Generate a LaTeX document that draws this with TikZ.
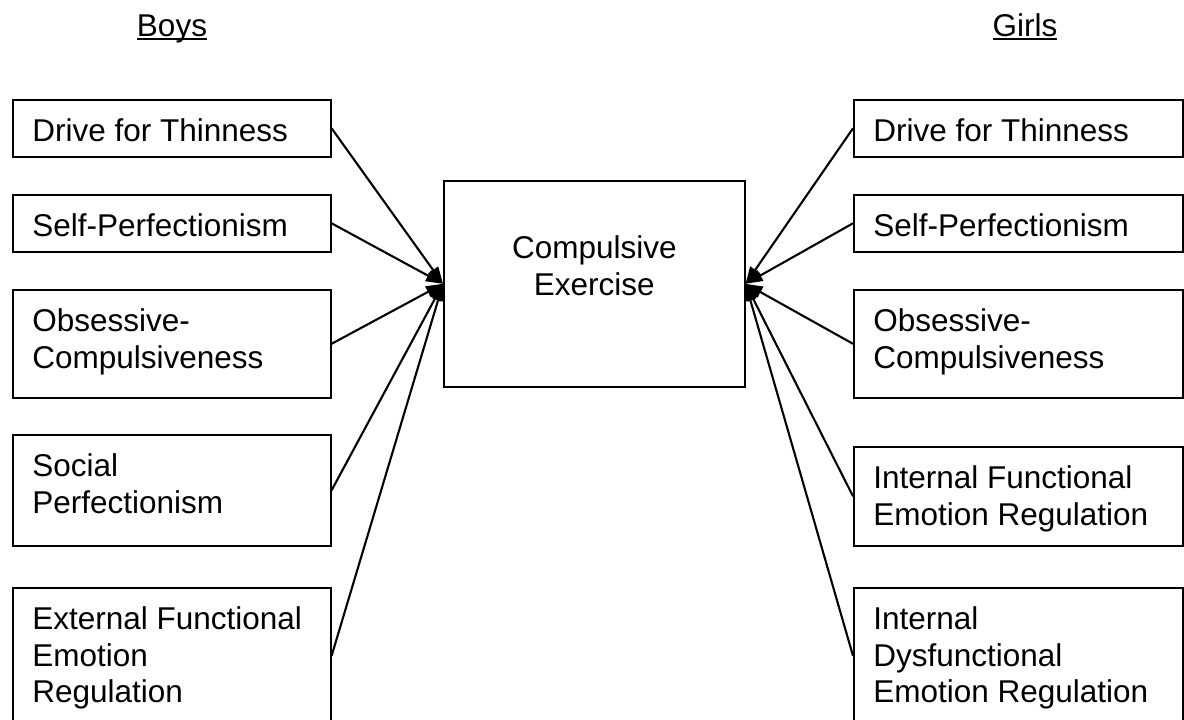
\documentclass[tikz,border=0pt]{standalone}
\usepackage{fontspec}
\setmainfont{Liberation Sans}
\usetikzlibrary{arrows.meta}
\newcommand{\boxtxt}[4]{\parbox[t][#2][t]{#1}{\raggedright\leftskip=19.5pt\relax\vspace*{#3}#4}}
\newcommand{\myul}[1]{\setbox0\hbox{#1}\rlap{\rule[-4.3pt]{\wd0}{2pt}}\box0}
\begin{document}
\begin{tikzpicture}[x=1pt,y=-1pt,
  every node/.style={font=\fontsize{31.5}{36.5}\selectfont},
  box/.style={draw, line width=1.6pt, inner sep=0pt, anchor=north west},
  title/.style={inner sep=0pt, anchor=base},
  conn/.style={line width=2.1pt, -{Triangle[length=17pt,width=12pt]}}]
\useasboundingbox (0,0) rectangle (1184,720);
\fill[white] (0,0) rectangle (1184,720);
% titles
\node[title] (boys) at (172,36) {\myul{Boys}};
\node[title] (girls) at (1025,36) {\myul{Girls}};
% center
\node[box] (ce) at (443,180) {\parbox[t][206pt][t]{301pt}{\centering\vspace*{55pt}Compulsive\\Exercise}};
% left boxes
\node[box] (l1) at (12,99) {\boxtxt{318pt}{57pt}{18.5pt}{Drive for Thinness}};
\node[box] (l2) at (12,194) {\boxtxt{318pt}{57pt}{18.5pt}{Self-Perfectionism}};
\node[box] (l3) at (12,289) {\boxtxt{318pt}{108pt}{19pt}{Obsessive-\\Compulsiveness}};
\node[box] (l4) at (12,434) {\boxtxt{318pt}{111pt}{19pt}{Social\\Perfectionism}};
\node[box] (l5) at (12,587) {\boxtxt{318pt}{136pt}{19pt}{External Functional\\Emotion\\Regulation}};
% right boxes
\node[box] (r1) at (853,99) {\boxtxt{329pt}{57pt}{18.5pt}{Drive for Thinness}};
\node[box] (r2) at (853,194) {\boxtxt{329pt}{57pt}{18.5pt}{Self-Perfectionism}};
\node[box] (r3) at (853,289) {\boxtxt{329pt}{108pt}{19pt}{Obsessive-\\Compulsiveness}};
\node[box] (r4) at (853,446) {\boxtxt{329pt}{99pt}{19pt}{Internal Functional\\Emotion Regulation}};
\node[box] (r5) at (853,587) {\boxtxt{329pt}{136pt}{19pt}{Internal\\Dysfunctional\\Emotion Regulation}};
% connectors
\foreach \n in {l1,l2,l3,l4,l5} \draw[conn] (\n.east) -- (ce.west);
\foreach \n in {r1,r2,r3,r4,r5} \draw[conn] (\n.west) -- (ce.east);
\end{tikzpicture}
\end{document}
